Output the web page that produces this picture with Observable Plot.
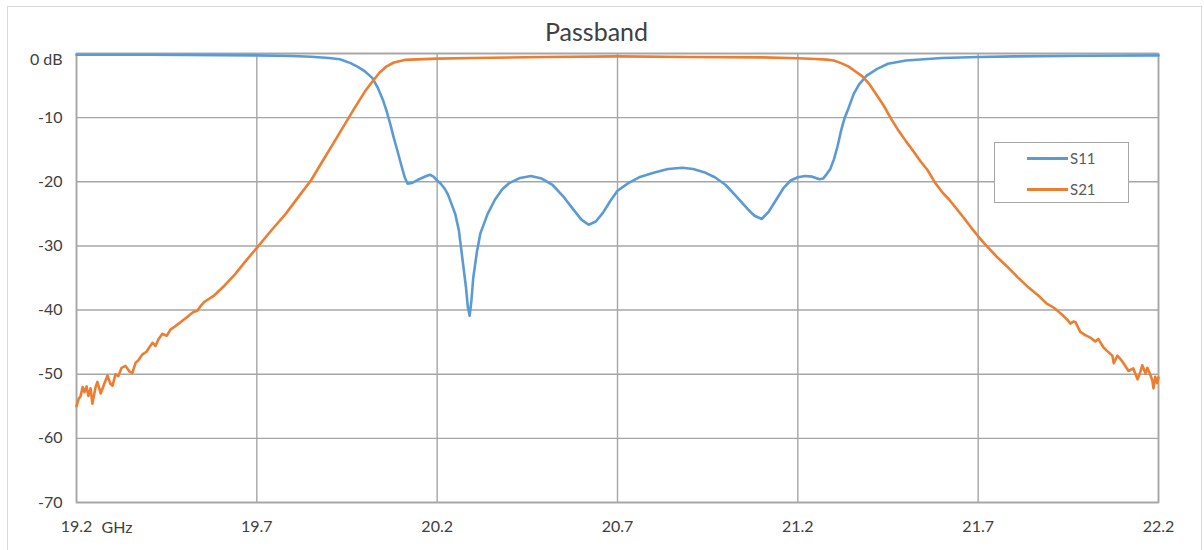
<!DOCTYPE html>
<html><head><meta charset="utf-8">
<script src="https://cdn.jsdelivr.net/npm/d3@7"></script>
<script src="https://cdn.jsdelivr.net/npm/@observablehq/plot@0.6"></script>
<style>
body{margin:0;background:#fff;font-family:Lato,sans-serif;}
#wrap{position:relative;width:1204px;height:550px;overflow:hidden;}
#border{position:absolute;left:7px;top:6px;width:1195px;height:600px;border:1px solid #d9d9d9;box-sizing:border-box;}
#chart{position:absolute;left:0;top:0;}
#legend{position:absolute;left:994px;top:142px;width:135px;height:61px;background:#fff;border:1px solid #a6a6a6;box-sizing:border-box;font-family:Lato,sans-serif;font-size:15px;color:#595959;}
.item{position:absolute;left:0;height:20px;width:130px;}
.sw{position:absolute;left:32px;width:41px;height:3px;top:9px;}
.lb{position:absolute;left:75px;top:0;line-height:20px;}
</style></head>
<body><div id="wrap"><div id="border"></div><div id="chart"></div>
<div id="legend"></div></div>
<script>
const seriesNames = ["S11", "S21"];
const seriesColors = ["#5B9BD5", "#ED7D31"];
const titleText = "Passband";
const xTicks = [19.2, 19.7, 20.2, 20.7, 21.2, 21.7, 22.2];
const yTicks = [0, -10, -20, -30, -40, -50, -60, -70];
const xUnit = "GHz";

const s11Freq = [19.20,19.40,19.60,19.70,19.80,19.85,19.90,19.93,19.96,19.98,20.00,20.02,20.035,20.05,20.06,20.07,20.08,20.09,20.10,20.11,20.118,20.13,20.15,20.17,20.18,20.19,20.20,20.21,20.22,20.23,20.25,20.26,20.27,20.28,20.285,20.29,20.295,20.30,20.31,20.32,20.34,20.36,20.38,20.40,20.43,20.46,20.49,20.52,20.55,20.58,20.60,20.62,20.64,20.66,20.68,20.70,20.73,20.76,20.80,20.84,20.88,20.91,20.94,20.97,21.00,21.03,21.06,21.08,21.10,21.12,21.14,21.16,21.18,21.20,21.22,21.24,21.26,21.27,21.28,21.29,21.30,21.31,21.32,21.33,21.34,21.355,21.37,21.39,21.42,21.45,21.50,21.60,21.70,21.80,22.00,22.20];
const s11dB = [-0.2,-0.2,-0.25,-0.3,-0.4,-0.5,-0.7,-0.9,-1.5,-2.1,-2.8,-3.8,-5.3,-7.3,-9.0,-11.0,-13.2,-15.2,-17.3,-19.3,-20.3,-20.2,-19.6,-19.1,-18.9,-19.2,-19.8,-20.3,-21.0,-22.0,-25.0,-27.5,-32.0,-36.5,-39.5,-40.9,-38.5,-35.0,-31.0,-28.0,-25.0,-22.8,-21.2,-20.2,-19.4,-19.1,-19.5,-20.5,-22.3,-24.5,-25.9,-26.7,-26.2,-24.8,-23.0,-21.4,-20.2,-19.3,-18.6,-18.0,-17.8,-18.0,-18.5,-19.3,-20.5,-22.3,-24.2,-25.3,-25.8,-24.6,-22.8,-21.0,-19.8,-19.3,-19.1,-19.2,-19.6,-19.5,-18.8,-18.0,-16.5,-14.5,-12.0,-10.0,-8.6,-6.3,-4.8,-3.5,-2.4,-1.6,-1.1,-0.7,-0.55,-0.45,-0.35,-0.3];

const s21Freq = [19.200,19.206,19.211,19.217,19.222,19.228,19.233,19.239,19.244,19.253,19.258,19.267,19.275,19.286,19.294,19.300,19.308,19.316,19.325,19.336,19.347,19.355,19.364,19.372,19.383,19.394,19.402,19.411,19.419,19.427,19.438,19.450,19.461,19.472,19.486,19.497,19.511,19.524,19.535,19.544,19.555,19.580,19.610,19.640,19.670,19.700,19.740,19.780,19.820,19.850,19.880,19.910,19.940,19.970,20.000,20.020,20.040,20.060,20.080,20.110,20.200,20.300,20.500,20.700,20.900,21.100,21.200,21.250,21.280,21.300,21.320,21.340,21.360,21.380,21.400,21.420,21.440,21.460,21.480,21.500,21.520,21.540,21.560,21.580,21.600,21.620,21.640,21.660,21.680,21.700,21.720,21.750,21.780,21.810,21.840,21.870,21.890,21.900,21.909,21.922,21.936,21.947,21.956,21.964,21.970,21.983,21.997,22.011,22.025,22.033,22.047,22.058,22.072,22.076,22.086,22.094,22.103,22.117,22.130,22.142,22.150,22.155,22.164,22.169,22.178,22.183,22.186,22.191,22.196,22.200];
const s21dB = [-55.0,-53.8,-53.5,-52.0,-52.8,-51.9,-53.4,-52.2,-54.6,-52.0,-51.2,-53.0,-51.8,-50.2,-51.5,-51.8,-50.0,-50.3,-49.0,-48.7,-49.6,-49.8,-48.2,-47.8,-46.9,-46.5,-45.8,-45.1,-45.6,-44.6,-43.7,-44.0,-43.0,-42.6,-42.0,-41.5,-40.9,-40.3,-40.1,-39.4,-38.7,-37.8,-36.2,-34.4,-32.3,-30.3,-27.6,-25.0,-22.0,-19.8,-17.0,-14.2,-11.4,-8.6,-5.9,-4.4,-3.0,-2.0,-1.4,-1.0,-0.8,-0.7,-0.55,-0.45,-0.55,-0.6,-0.75,-0.85,-0.95,-1.1,-1.5,-2.0,-2.8,-3.6,-4.9,-6.6,-8.3,-10.3,-12.1,-13.7,-15.2,-16.8,-18.2,-20.1,-21.6,-22.8,-24.2,-25.6,-27.1,-28.5,-29.8,-31.6,-33.2,-34.9,-36.5,-37.9,-39.0,-39.3,-39.6,-40.2,-40.9,-41.5,-42.1,-41.8,-41.9,-43.4,-43.9,-44.3,-44.9,-44.5,-45.8,-46.4,-47.1,-48.3,-47.1,-47.6,-48.3,-49.5,-49.1,-50.8,-49.6,-48.6,-49.9,-49.0,-50.2,-51.0,-52.2,-50.4,-51.4,-50.5];

const data = [
  ...s11Freq.map((f, i) => ({series: seriesNames[0], f, db: s11dB[i]})),
  ...s21Freq.map((f, i) => ({series: seriesNames[1], f, db: s21dB[i]}))
];

const gridColor = "#a6a6a6";
const chart = Plot.plot({
  width: 1204, height: 550,
  marginLeft: 76, marginRight: 46, marginTop: 53, marginBottom: 48,
  style: {fontFamily: "Lato, sans-serif", fontSize: "16px", color: "#404040", background: "transparent"},
  x: {domain: [xTicks[0], xTicks[xTicks.length - 1]]},
  y: {domain: [yTicks[yTicks.length - 1], yTicks[0]]},
  color: {domain: seriesNames, range: seriesColors},
  marks: [
    Plot.gridX(xTicks, {stroke: gridColor, strokeOpacity: 1, strokeWidth: 1.4}),
    Plot.gridY(yTicks, {stroke: gridColor, strokeOpacity: 1, strokeWidth: 1.4}),
    Plot.frame({stroke: gridColor, strokeWidth: 1.6}),
    Plot.axisX(xTicks, {tickSize: 0, tickPadding: 18, tickFormat: d => String(d), label: null}),
    Plot.axisY(yTicks.slice(1), {tickSize: 0, tickPadding: 14, tickFormat: d => String(d), label: null}),
    Plot.axisY(yTicks.slice(0, 1), {tickSize: 0, tickPadding: 14, dy: 6, tickFormat: () => "0 dB", label: null}),
    Plot.text([xUnit], {x: xTicks[0], frameAnchor: "bottom", dy: 25, dx: 25, textAnchor: "start", lineAnchor: "middle", text: d => d, fill: "#404040"}),
    Plot.text([titleText], {frameAnchor: "top", dy: -21, dx: -21, text: d => d, fontSize: 25, fill: "#404040", lineAnchor: "middle"}),
    Plot.line(data, {x: "f", y: "db", z: "series", stroke: "series", strokeWidth: 2.6, curve: "linear"})
  ]
});
document.getElementById("chart").appendChild(chart);

const legend = document.getElementById("legend");
seriesNames.forEach((name, i) => {
  const it = document.createElement("div");
  it.className = "item";
  it.style.top = (5 + i * 31) + "px";
  it.innerHTML = `<div class="sw" style="background:${seriesColors[i]}"></div><div class="lb">${name}</div>`;
  legend.appendChild(it);
});
</script></body></html>
